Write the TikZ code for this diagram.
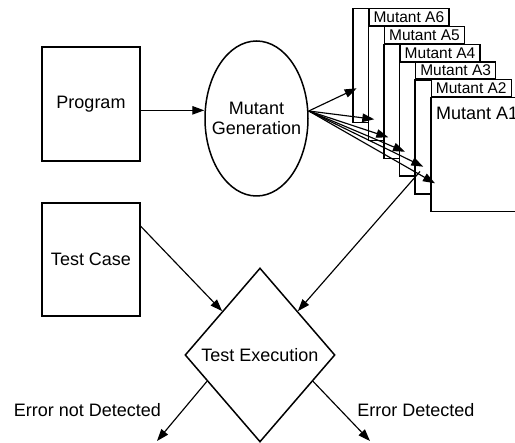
\documentclass[tikz,border=0pt]{standalone}
\usepackage{fontspec}
\setmainfont{Liberation Sans}
\usetikzlibrary{shapes.geometric,arrows.meta,calc}
\tikzset{
  box/.style={draw, line width=1.5pt, fill=white, inner sep=0pt},
  mbox/.style={draw, line width=1.5pt, fill=white, inner sep=0pt, minimum width=96pt, minimum height=114pt, anchor=north west},
  lbl/.style={draw, line width=1.3pt, fill=white, inner sep=0pt, minimum width=80pt, minimum height=17pt, anchor=north east, font=\fontsize{15.5}{17}\selectfont},
  arr/.style={-{Triangle[length=12pt,width=8.5pt]}, line width=1.15pt},
  big/.style={font=\fontsize{18}{20}\selectfont},
}
\begin{document}
\begin{tikzpicture}[x=1pt,y=-1pt]
\useasboundingbox (0,0) rectangle (515,443);
\clip (0,0) rectangle (515,443);
\fill[white] (0,0) rectangle (515,443);
% main nodes
\node[box, big, minimum width=98pt, minimum height=114pt] (pg) at (91,104) {Program};
\node[box, big, minimum width=98pt, minimum height=113pt] (tc) at (91,259.5) {Test Case};
\node[box, ellipse, minimum width=103pt, minimum height=155pt] (mg) at (256.5,118.5) {};
\node[big, align=center, inner sep=0pt] (mgt) at (mg.center) {Mutant\\Generation};
\node[box, diamond, minimum width=150pt, minimum height=174pt] (te) at (260,355) {};
\node[big, inner sep=0pt] (tet) at (te.center) {Test Execution};
% mutants
\node[mbox] (m6) at (352,8) {};
\node[lbl] (l6) at (m6.north east) {Mutant A6};
\node[mbox] (m5) at (367.6,25.8) {};
\node[lbl] (l5) at (m5.north east) {Mutant A5};
\node[mbox] (m4) at (383.2,43.6) {};
\node[lbl] (l4) at (m4.north east) {Mutant A4};
\node[mbox] (m3) at (398.8,61.4) {};
\node[lbl] (l3) at (m3.north east) {Mutant A3};
\node[mbox] (m2) at (414.4,79.2) {};
\node[lbl] (l2) at (m2.north east) {Mutant A2};
\node[mbox] (m1) at (430,97) {};
\node[big, anchor=west, inner sep=0pt] (l1) at (436,113) {Mutant A1};
% coordinates
\coordinate (pa) at ($(pg.north east)!0.555!(pg.south east)$);
\coordinate (mgo) at ([yshift=7.5pt]mg.east);
\coordinate (t6) at (356.7,88.3);
\coordinate (t5) at (374.3,119.3);
\coordinate (t4) at (388.3,137.3);
\coordinate (t3) at (405,151.7);
\coordinate (t2) at (423.3,166.7);
\coordinate (t1) at (435,183.3);
\coordinate (ms) at (420,171.5);
\coordinate (tcs) at ($(tc.north east)!0.21!(tc.south east)$);
\coordinate (e1) at (157,441);
\coordinate (e2) at (370,441);
% connectors
\draw[arr] (pa) -- (pa -| mg.west);
\foreach \t in {t6,t5,t4,t3,t2,t1} \draw[arr] (mgo) -- (\t);
\draw[arr] (tcs) -- ($(te.west)!0.5!(te.north)$);
\draw[arr] (ms) -- ($(te.north)!0.5!(te.east)$);
\draw[arr] ($(te.west)!0.3!(te.south)$) -- (e1);
\draw[arr] ($(te.east)!0.3!(te.south)$) -- (e2);
% labels
\node[big, inner sep=0pt] (en) at (87.5,410) {Error not Detected};
\node[big, inner sep=0pt] (ed) at (416,410) {Error Detected};
\end{tikzpicture}
\end{document}
